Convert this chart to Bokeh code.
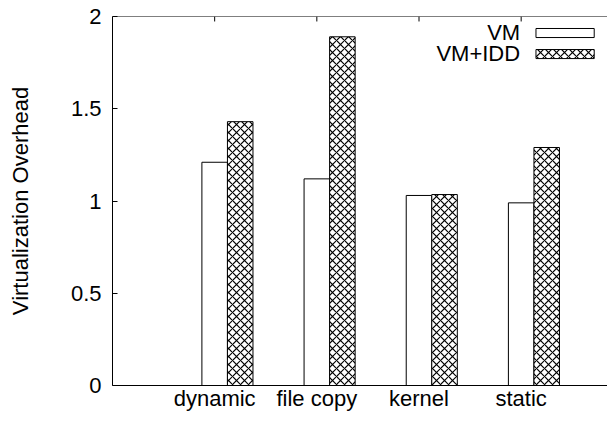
from bokeh.plotting import figure
from bokeh.models import (ColumnDataSource, Range1d, FixedTicker, Span,
                          Label, BoxAnnotation)
from bokeh.transform import dodge
from bokeh.embed import file_html
from bokeh.resources import INLINE

categories = ["dynamic", "file copy", "kernel", "static"]
vm = [1.21, 1.12, 1.03, 0.99]
vm_idd = [1.43, 1.89, 1.035, 1.29]
y_ticks = [0, 0.5, 1, 1.5, 2]

FONT = "Liberation Sans"
FS = "22px"
Y_MAX = 2

pos = list(range(len(categories)))
src = ColumnDataSource(dict(x=pos, vm=vm, idd=vm_idd))

p = figure(width=607, height=413, output_backend="svg", toolbar_location=None,
           x_range=Range1d(-1, 3.845), y_range=Range1d(0, Y_MAX),
           min_border_left=112, min_border_right=0, min_border_top=16,
           min_border_bottom=28)
p.outline_line_color = None
p.grid.visible = False
p.background_fill_color = "white"
p.border_fill_color = "white"

p.vbar(x="x", top="vm", width=0.25, bottom=0, source=src,
       fill_color="white", line_color="black", line_width=1)
p.vbar(x=dodge("x", 0.25), top="idd", width=0.25, bottom=0, source=src,
       fill_color="white", line_color="black", line_width=1,
       hatch_pattern="diagonal_cross", hatch_color="black", hatch_scale=8,
       hatch_weight=1.2)

# bottom axis
xa = p.xaxis[0]
xa.ticker = FixedTicker(ticks=pos)
xa.major_label_overrides = {i: c for i, c in zip(pos, categories)}
xa.major_tick_in = 0
xa.major_tick_out = 0
xa.minor_tick_line_color = None
xa.major_label_text_font = FONT
xa.major_label_text_font_size = FS
xa.major_label_text_color = "black"
xa.major_label_standoff = 0
xa.axis_line_color = "black"

# left axis
ya = p.yaxis[0]
ya.ticker = FixedTicker(ticks=y_ticks)
ya.major_label_overrides = {0: "0", 0.5: "0.5", 1: "1", 1.5: "1.5", 2: "2"}
ya.major_tick_in = 5
ya.major_tick_out = 0
ya.minor_tick_line_color = None
ya.major_label_text_font = FONT
ya.major_label_text_font_size = FS
ya.major_label_text_color = "black"
ya.major_label_standoff = 11
ya.axis_label = "Virtualization Overhead"
ya.axis_label_text_font = FONT
ya.axis_label_text_font_size = FS
ya.axis_label_text_font_style = "normal"
ya.axis_label_text_color = "black"
ya.axis_label_standoff = 35
ya.axis_line_color = "black"

# top border with inward (mirrored) category ticks
p.add_layout(Span(location=Y_MAX, dimension="width", line_color="black",
                  line_width=1))
p.segment(x0=pos, x1=pos, y0=[Y_MAX] * len(pos), y1=[Y_MAX - 0.027] * len(pos),
          line_color="black", line_width=1)

# legend (drawn manually: label left of key, like the original)
p.add_layout(Label(x=2.99, y=1.915, text="VM", text_align="right",
                   text_baseline="middle", text_font=FONT,
                   text_font_size=FS, text_color="black"))
p.add_layout(Label(x=2.99, y=1.800, text="VM+IDD", text_align="right",
                   text_baseline="middle", text_font=FONT,
                   text_font_size=FS, text_color="black"))
p.add_layout(BoxAnnotation(left=3.145, right=3.715, top=1.935, bottom=1.886,
                           fill_color="white", fill_alpha=1,
                           line_color="black", line_width=1, line_alpha=1))
p.add_layout(BoxAnnotation(left=3.145, right=3.715, top=1.821, bottom=1.772,
                           fill_color="white", fill_alpha=1,
                           line_color="black", line_width=1, line_alpha=1,
                           hatch_pattern="diagonal_cross", hatch_color="black",
                           hatch_scale=8, hatch_weight=1.2))

open("out.html", "w").write(file_html(p, INLINE))
